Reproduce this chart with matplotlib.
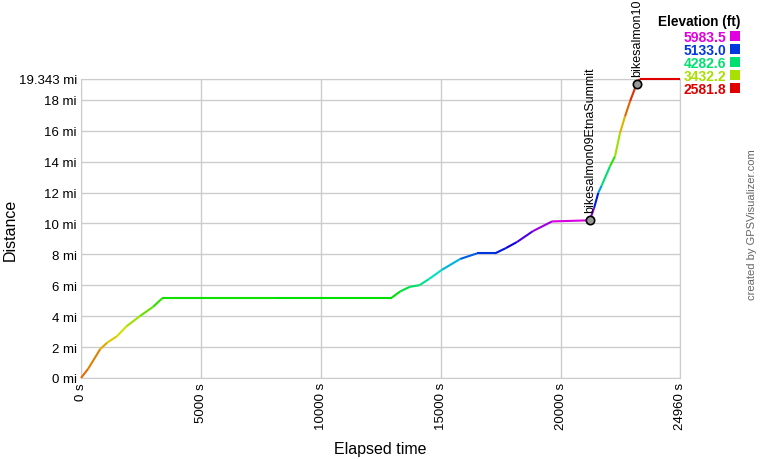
import numpy as np
import matplotlib
matplotlib.use("Agg")
import matplotlib.pyplot as plt
from matplotlib.collections import LineCollection
from matplotlib.colors import hsv_to_rgb

plt.rcParams['font.family'] = ['Liberation Sans', 'DejaVu Sans']

# track: elapsed time (s), distance (mi), elevation (ft)
tiempo = [0, 300, 800, 1100, 1500, 1900, 2450, 3000, 3380, 8080, 8100, 12950,
          13300, 13700, 14100, 14500, 15040, 15800, 16500, 17250, 17700, 18170,
          18830, 19630, 21200, 21380, 21556, 21696, 22043, 22251, 22460, 22668,
          22876, 23154, 23290, 24960]
distancia = [0, 0.6, 1.87, 2.3, 2.7, 3.35, 4.0, 4.6, 5.15, 5.15, 5.2, 5.2,
             5.6, 5.9, 6.0, 6.4, 7.0, 7.7, 8.06, 8.06, 8.4, 8.8,
             9.5, 10.13, 10.2, 11.0, 11.98, 12.45, 13.7, 14.34, 15.85, 16.92,
             17.89, 19.03, 19.343, 19.343]
elevacion = [2922, 2900, 3035, 3150, 3240, 3375, 3545, 3715, 3885, 3900, 3942, 3942,
             4056, 4225, 4282, 4452, 4623, 4905, 5133, 5160, 5303, 5416,
             5643, 5927, 5983, 5416, 5020, 4623, 3942, 3660, 3262, 2978,
             2808, 2638, 2581.8, 2581.8]

# waypoints
wp_nombres = ['bikesalmon09EtnaSummit', 'bikesalmon10']
wp_tiempo = [21200, 23154]
wp_distancia = [10.2, 19.03]

ley_valores = [5983.5, 5133.0, 4282.6, 3432.2, 2581.8]
x_ticks = [0, 5000, 10000, 15000, 20000, 24960]
y_ticks = [0, 2, 4, 6, 8, 10, 12, 14, 16, 18, 19.343]

emin, emax = 2581.8, 5983.5


# Función para pasar la elevación a color (rojo -> magenta)
def color_elev(e):
    h = (e - emin) / (emax - emin) * 300.0 / 360.0
    return hsv_to_rgb([h, 1.0, 0.88])


def main():
    fig = plt.figure(figsize=(7.6, 4.6), dpi=100)
    ax = fig.add_axes([81 / 760, 81 / 460, 599 / 760, 299 / 460])

    pts = np.column_stack([tiempo, distancia])
    segs = np.stack([pts[:-1], pts[1:]], axis=1)
    elev = np.array(elevacion)
    cols = [color_elev(e) for e in (elev[:-1] + elev[1:]) / 2]
    lc = LineCollection(segs, colors=cols, linewidths=1.5, zorder=3, clip_on=False)
    ax.add_collection(lc)

    ax.set_xlim(0, 24960)
    ax.set_ylim(0, 19.343)

    ax.set_xticks(x_ticks)
    ax.set_xticklabels([f'{v} s' for v in x_ticks], rotation=90, fontsize=9.5)
    ax.set_yticks(y_ticks)
    ax.set_yticklabels([f'{v:g} mi' for v in y_ticks], fontsize=9.5)
    ax.tick_params(length=0, pad=3)
    ax.grid(True, color='#cccccc', linewidth=1)
    ax.set_axisbelow(True)
    for s in ax.spines.values():
        s.set_color('#cccccc')

    ax.set_xlabel('Elapsed time', fontsize=11.5, labelpad=8)
    ax.set_ylabel('Distance', fontsize=11.5)
    ax.yaxis.set_label_coords(-0.105, 0.5)

    # waypoints
    ax.scatter(wp_tiempo, wp_distancia, s=36, facecolor='#999999', edgecolor='black',
               linewidth=1.2, zorder=5, clip_on=False)
    for n, t, d in zip(wp_nombres, wp_tiempo, wp_distancia):
        ax.annotate(n, (t, d), xytext=(0, 6), textcoords='offset points',
                    rotation=90, ha='center', va='bottom', fontsize=9,
                    annotation_clip=False)

    # leyenda de elevación
    fig.text(740 / 760, 1 - 22 / 460, 'Elevation (ft)', ha='right', va='center',
             fontsize=9.8, fontweight='bold')
    for i, v in enumerate(ley_valores):
        y = 1 - (37 + i * 13) / 460
        c = color_elev(v)
        fig.text(726 / 760, y - 1 / 460, f'{v:.1f}', ha='right', va='center',
                 fontsize=10, fontweight='bold', color=c)
        fig.patches.append(plt.Rectangle((730 / 760, y - 5 / 460), 10 / 760, 10 / 460,
                                         transform=fig.transFigure, facecolor=c,
                                         edgecolor='none', figure=fig))

    fig.text(752 / 760, 1 - 225 / 460, 'created by GPSVisualizer.com', rotation=90,
             ha='center', va='center', fontsize=8, color='#666666')

    fig.savefig('out.png', dpi=100)


if __name__ == "__main__":
    main()
